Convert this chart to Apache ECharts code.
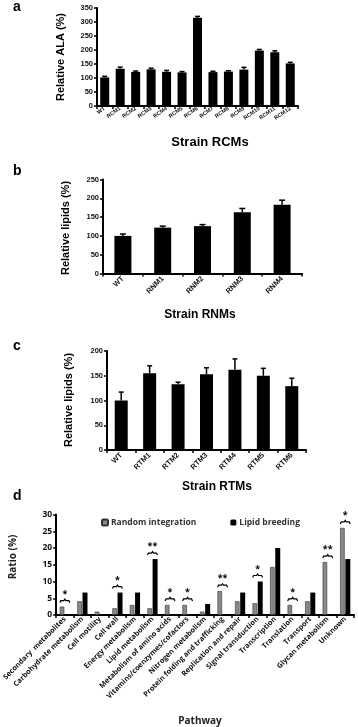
<!DOCTYPE html>
<html><head><meta charset="utf-8">
<script src="https://cdn.jsdelivr.net/npm/echarts@6/dist/echarts.min.js"></script>
<style>html,body{margin:0;padding:0;background:#fff}#c{width:358px;height:727px}</style>
</head><body><div id="c"></div>
<script>
// ---- Panel a ----
const rcmCategories = ['WT','RCM1','RCM2','RCM3','RCM4','RCM5','RCM6','RCM7','RCM8','RCM9','RCM10','RCM11','RCM12'];
const rcmValues = [102,133,122,131,122,120,315,121,123,130,198,192,152];
const rcmErrors = [4,6,3,4,5,3,5,3,3,8,4,5,4];
const rcmTicks = [0,50,100,150,200,250,300,350];
// ---- Panel b ----
const rnmCategories = ['WT','RNM1','RNM2','RNM3','RNM4'];
const rnmValues = [100,122,126,163,183];
const rnmErrors = [5,4,4,10,12];
const rnmTicks = [0,50,100,150,200,250];
// ---- Panel c ----
const rtmCategories = ['WT','RTM1','RTM2','RTM3','RTM4','RTM5','RTM6'];
const rtmValues = [100,155,133,153,162,150,129];
const rtmErrors = [17,15,4,13,22,15,16];
const rtmTicks = [0,50,100,150,200];
// ---- Panel d ----
const pathways = ['Secondary  metabolites','Carbohydrate metabolism','Cell motility','Cell wall','Energy metabolism','Lipid metabolism','Metabolism of amino acids','Vitamins/coenzymes/cofactors','Nitrogen metabolism','Protein folding and trafficking','Replication and repair','Signal transduction','Transcription','Translation','Transport','Glycan metabolism','Unknown'];
const randomIntegration = [2.5,4.1,1.0,2.0,3.0,2.0,3.0,3.0,1.0,7.1,4.1,3.5,14.3,3.0,4.1,15.8,26.0];
const lipidBreeding = [0,6.7,0,6.7,6.7,16.7,0,0,3.3,0,6.7,10.0,20.0,0,6.7,0,16.7];
const significance = ['*','','','*','','**','*','*','','**','','*','','*','','**','*'];
const ratioTicks = [0,5,10,15,20,25,30];
const seriesNames = ['Random integration','Lipid breeding'];

const chart = echarts.init(document.getElementById('c'), null, {renderer:'canvas'});
const AR = 'Liberation Sans, Arial, sans-serif';
const CA = 'Open Sans, Noto Sans, sans-serif';

function catAxis(idx, cats, rotate, fs, font, margin){
  return {type:'category', gridIndex:idx, data:cats,
    axisLine:{lineStyle:{color:'#000', width:2}},
    axisTick:{show:true, length:3, lineStyle:{color:'#000', width:1.5}},
    axisLabel:{rotate:rotate, fontSize:fs, fontWeight:'bold', fontFamily:font, color:'#111', margin:margin, interval:0}};
}
function valAxis(idx, ticks, fs, font){
  return {type:'value', gridIndex:idx, min:ticks[0], max:ticks[ticks.length-1], interval:ticks[1]-ticks[0],
    splitLine:{show:false},
    axisLine:{show:true, lineStyle:{color:'#000', width:2}},
    axisTick:{show:true, length:3, lineStyle:{color:'#000', width:1.5}},
    axisLabel:{fontSize:fs, fontWeight:'bold', fontFamily:font, color:'#111', margin:4}};
}
function errSeries(idx, vals, errs, cap){
  return {type:'custom', xAxisIndex:idx, yAxisIndex:idx, z:1,
    data: vals.map((v,i)=>[i, v, errs[i]]),
    renderItem:function(params, api){
      const x=api.value(0), v=api.value(1), e=api.value(2);
      const b=api.coord([x,v]), t=api.coord([x,v+e]);
      return {type:'group', children:[
        {type:'line', shape:{x1:b[0],y1:b[1],x2:t[0],y2:t[1]}, style:{stroke:'#000',lineWidth:1.5}},
        {type:'line', shape:{x1:t[0]-cap/2,y1:t[1],x2:t[0]+cap/2,y2:t[1]}, style:{stroke:'#000',lineWidth:1.5}}
      ]};
    }};
}

const sigData = [];
significance.forEach((s,i)=>{ if(s) sigData.push([i, Math.max(randomIntegration[i], lipidBreeding[i]), s]); });

const titles = [
  ['a',19,8,14,AR,0], ['b',19,172,14,AR,0], ['c',19,347,14,AR,0], ['d',19,497,14,AR,0],
];

const option = {
  animation:false,
  backgroundColor:'#fff',
  grid:[
    {left:97, top:8, width:201, height:98},
    {left:103, top:179.5, width:199, height:94},
    {left:107, top:351, width:199, height:99},
    {left:52, top:514.5, width:302, height:100.5}
  ],
  legend:{show:true, data:seriesNames, left:96, top:513, itemWidth:6, itemHeight:6, itemGap:34,
    textStyle:{fontSize:8.5, fontWeight:'bold', fontFamily:CA, color:'#333', padding:[0,0,0,-2]}},
  xAxis:[
    catAxis(0, rcmCategories, 35, 5.5, AR, 2),
    catAxis(1, rnmCategories, 45, 7.5, AR, 4),
    catAxis(2, rtmCategories, 45, 7.5, AR, 4),
    catAxis(3, pathways, 45, 7.3, CA, 3)
  ],
  yAxis:[
    valAxis(0, rcmTicks, 7.5, AR),
    valAxis(1, rnmTicks, 7.5, AR),
    valAxis(2, rtmTicks, 7.5, AR),
    valAxis(3, ratioTicks, 8.5, CA)
  ],
  series:[
    {type:'bar', xAxisIndex:0, yAxisIndex:0, data:rcmValues, barWidth:9, itemStyle:{color:'#000'}, z:2},
    errSeries(0, rcmValues, rcmErrors, 5),
    {type:'bar', xAxisIndex:1, yAxisIndex:1, data:rnmValues, barWidth:17, itemStyle:{color:'#000'}, z:2},
    errSeries(1, rnmValues, rnmErrors, 6),
    {type:'bar', xAxisIndex:2, yAxisIndex:2, data:rtmValues, barWidth:13, itemStyle:{color:'#000'}, z:2},
    errSeries(2, rtmValues, rtmErrors, 5),
    {name:seriesNames[0], type:'bar', xAxisIndex:3, yAxisIndex:3, data:randomIntegration, barWidth:4.5, barGap:'15%',
      itemStyle:{color:'#888', borderColor:'#333', borderWidth:0.6}},
    {name:seriesNames[1], type:'bar', xAxisIndex:3, yAxisIndex:3, data:lipidBreeding, barWidth:5,
      itemStyle:{color:'#000'}},
    {type:'custom', xAxisIndex:3, yAxisIndex:3, data:sigData, z:5,
      renderItem:function(params, api){
        const c=api.coord([api.value(0), api.value(1)]);
        const y=c[1]-6, xl=c[0]-5, xr=c[0]+5, xm=c[0];
        return {type:'group', children:[
          {type:'polyline', shape:{points:[[xl,y+2],[xl+1,y],[xm-1,y],[xm,y-1.5],[xm+1,y],[xr-1,y],[xr,y+2]]}, style:{stroke:'#000', lineWidth:1.2, fill:null}},
          {type:'text', x:xm, y:y-2, style:{text:significance[api.value(0)], fontSize:9, fontWeight:'bold', fontFamily:CA, fill:'#000', align:'center', verticalAlign:'bottom'}}
        ]};
      }}
  ],
  graphic:[
    ...titles.map(t=>({type:'text', left:t[1]-6, top:t[2]-8, style:{text:t[0], fontSize:t[3], fontWeight:'bold', fontFamily:t[4], fill:'#000'}})),
    {type:'text', x:61, y:57, rotation:Math.PI/2, style:{text:'Relative ALA (%)', fontSize:11, fontWeight:'bold', fontFamily:AR, fill:'#000', align:'center', verticalAlign:'middle'}},
    {type:'text', x:210, y:142, style:{text:'Strain RCMs', fontSize:13, fontWeight:'bold', fontFamily:AR, fill:'#000', align:'center', verticalAlign:'middle'}},
    {type:'text', x:66, y:228, rotation:Math.PI/2, style:{text:'Relative lipids (%)', fontSize:11, fontWeight:'bold', fontFamily:AR, fill:'#000', align:'center', verticalAlign:'middle'}},
    {type:'text', x:200, y:315, style:{text:'Strain RNMs', fontSize:12, fontWeight:'bold', fontFamily:AR, fill:'#000', align:'center', verticalAlign:'middle'}},
    {type:'text', x:69, y:400, rotation:Math.PI/2, style:{text:'Relative lipids (%)', fontSize:11, fontWeight:'bold', fontFamily:AR, fill:'#000', align:'center', verticalAlign:'middle'}},
    {type:'text', x:217, y:487, style:{text:'Strain RTMs', fontSize:12, fontWeight:'bold', fontFamily:AR, fill:'#000', align:'center', verticalAlign:'middle'}},
    {type:'text', x:13, y:557, rotation:Math.PI/2, style:{text:'Ratio (%)', fontSize:10, fontWeight:'bold', fontFamily:CA, fill:'#222', align:'center', verticalAlign:'middle'}},
    {type:'text', x:200, y:721, style:{text:'Pathway', fontSize:10, fontWeight:'bold', fontFamily:CA, fill:'#222', align:'center', verticalAlign:'middle'}}
  ]
};
chart.setOption(option);
</script></body></html>
